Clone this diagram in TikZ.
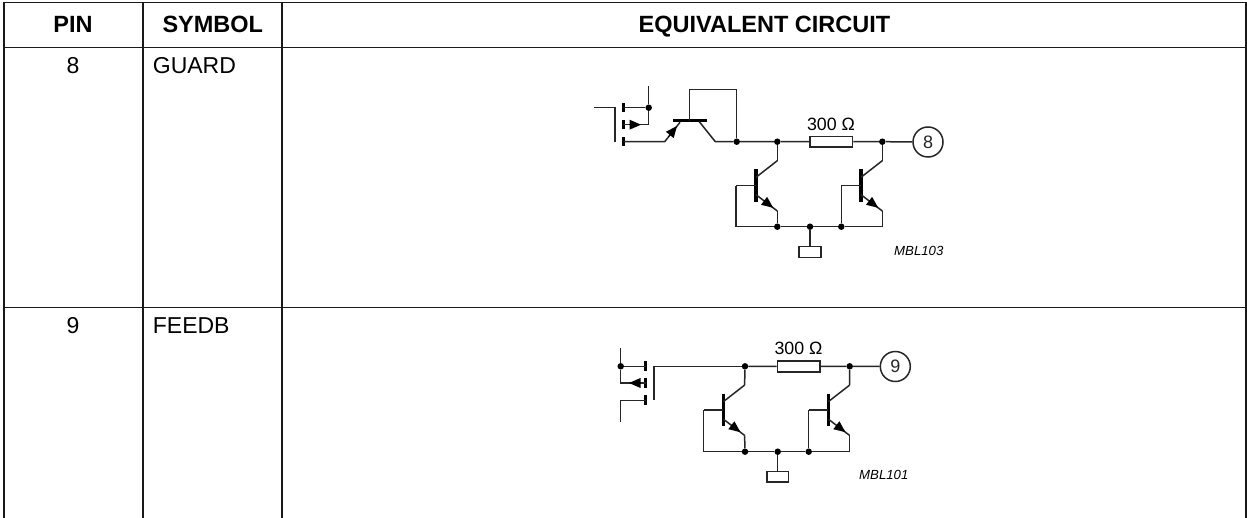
\documentclass[tikz,border=0pt]{standalone}
\usepackage{fontspec}
\setmainfont{Liberation Sans}
\usetikzlibrary{arrows.meta}
\tikzset{
  x=1pt,y=-1pt,
  grid/.style={line width=1.5pt,black!90},
  wire/.style={line width=1.5pt,black!85},
  headtext/.style={anchor=base,inner sep=0pt,font=\fontsize{23.5}{27}\selectfont\bfseries},
  celltext/.style={anchor=base,inner sep=0pt,font=\fontsize{23}{27}\selectfont},
  symtext/.style={anchor=base west,inner sep=0pt,font=\fontsize{23}{27}\selectfont},
  val/.style={anchor=base,inner sep=0pt,font=\fontsize{17.8}{21}\selectfont},
  code/.style={anchor=base west,inner sep=0pt,font=\fontsize{13.2}{16}\selectfont\itshape},
  dot/.style={circle,fill=black,inner sep=0pt,minimum size=6.5pt},
  bar/.style={line width=3.2pt,black},
  res/.style={draw,line width=1.5pt,black!85,inner sep=0pt,minimum width=42.5pt,minimum height=10.7pt,fill=white},
  gnd/.style={draw,line width=1.5pt,black!85,inner sep=0pt,minimum width=21.7pt,minimum height=10.7pt},
  pinc/.style={draw,circle,line width=1.5pt,black!85,inner sep=0pt,minimum size=30pt,font=\fontsize{18}{21}\selectfont},
  tip/.style={line width=0pt,-{Triangle[length=11.5pt,width=10pt]},black},
}
% #1 prefix, #2 bar x, #3 bar top y, #4 base left x, #5 bus y
\newcommand{\mybjt}[5]{%
  \coordinate (#1bt) at (#2,#3);
  \coordinate (#1bb) at (#2,#3+32.7);
  \coordinate (#1b) at (#2,#3+16.4);
  \coordinate (#1cs) at (#2,#3+8);
  \coordinate (#1ck) at (#2+21.3,#3-8.6);
  \coordinate (#1es) at (#2,#3+25.4);
  \coordinate (#1ek) at (#2+21.3,#3+41.7);
  \coordinate (#1bl) at (#4,#3+16.4);
  \coordinate (#1ab) at (#2+8,#3+31.5);
  \coordinate (#1at) at (#2+17.2,#3+38.5);
  \draw[bar] (#1bt) -- (#1bb);
  \draw[wire] (#1cs) -- (#1ck);
  \draw[wire] (#1es) -- (#1ek);
  \draw[wire] (#1b) -- (#1bl);
  \draw[tip] (#1ab) -- (#1at);
}
\begin{document}
\begin{tikzpicture}
\useasboundingbox (0,0) rectangle (1247,518);
\fill[white] (0,0) rectangle (1247,518);
% table grid
\coordinate (tl) at (4,2.7); \coordinate (tr) at (1246.2,2.7);
\coordinate (h1) at (4,47.3); \coordinate (h2) at (1246.2,47.3);
\coordinate (r1) at (4,307.7); \coordinate (r2) at (1246.2,307.7);
\coordinate (c1t) at (143,2.7); \coordinate (c1b) at (143,518);
\coordinate (c2t) at (282,2.7); \coordinate (c2b) at (282,518);
\coordinate (c0b) at (4,518); \coordinate (c3b) at (1246.2,518);
\draw[grid] (c0b) -- (tl) -- (tr) -- (c3b);
\draw[grid] (h1) -- (h2);
\draw[grid] (r1) -- (r2);
\draw[grid] (c1t) -- (c1b);
\draw[grid] (c2t) -- (c2b);
% texts
\node[headtext] (hpin) at (73,33) {PIN};
\node[headtext] (hsym) at (212.8,33) {SYMBOL};
\node[headtext] (heq) at (764.5,33) {EQUIVALENT CIRCUIT};
\node[celltext] (p8) at (73,74) {8};
\node[symtext] (s8) at (152.7,74) {GUARD};
\node[celltext] (p9) at (73,333.5) {9};
\node[symtext] (s9) at (152.7,333.5) {FEEDB};

% ===== circuit 8 =====
\node[pinc] (pin8) at (928,142) {8};
\node[res] (r8) at (831.3,141.7) {};
\node[val] (v8) at (831,130.7) {300 Ω};
\node[dot] (a1) at (648.7,107.7) {};
\node[dot] (a2) at (736.7,141.7) {};
\node[dot] (a3) at (777.3,141.7) {};
\node[dot] (a4) at (882.3,141.7) {};
\node[dot] (a5) at (777.3,226.7) {};
\node[dot] (a6) at (810,226.7) {};
\node[dot] (a7) at (841.3,226.7) {};
\node[gnd,anchor=north] (g8) at (810,246) {};
\coordinate (i1) at (594,107.7); \coordinate (i2) at (615,107.7); \coordinate (i3) at (615,141.7);
\coordinate (u1) at (648.7,86);
\coordinate (u2) at (648.7,124.7);
\coordinate (g1) at (623.3,107.7); \coordinate (g2) at (623.3,124.7); \coordinate (g3) at (623.3,141.7);
\coordinate (e1) at (664.7,141.7); \coordinate (e2) at (680,122.3);
\coordinate (k1) at (699.3,121.7); \coordinate (k2) at (715.3,141.7);
\coordinate (q1) at (689.3,120.7); \coordinate (q2) at (689.3,89.3); \coordinate (q3) at (736.7,89.3);
\draw[wire] (i1) -- (i2) -- (i3);
\draw[bar] (623.3,103.3) -- (623.3,112.4);
\draw[bar] (623.3,120.1) -- (623.3,129.3);
\draw[bar] (623.3,137.1) -- (623.3,146.3);
\draw[wire] (g1) -- (a1);
\draw[wire] (u1) -- (a1);
\draw[wire] (a1) -- (u2) -- (g2);
\coordinate (ta1) at (630,124.7); \coordinate (ta2) at (641,124.7);
\draw[tip] (ta1) -- (ta2);
\draw[wire] (g3) -- (e1) -- (e2);
\coordinate (ta3) at (668.5,136.5); \coordinate (ta4) at (677,126);
\draw[tip] (ta3) -- (ta4);
\draw[bar] (673.3,120.7) -- (706.7,120.7);
\draw[wire] (k1) -- (k2) -- (a2);
\draw[wire] (q1) -- (q2) -- (q3) -- (a2);
\draw[wire] (a2) -- (a3) -- (r8) -- (a4) -- (pin8);
\mybjt{t1}{756}{169.3}{736}{226.7}
\mybjt{t2}{861}{169.3}{841.3}{226.7}
\draw[wire] (a3) -- (t1ck);
\draw[wire] (t1bl) |- (a5);
\draw[wire] (t1ek) -- (a5);
\draw[wire] (a5) -- (a6) -- (a7);
\draw[wire] (a7) -- (t2bl);
\draw[wire] (a7) -| (t2ek);
\draw[wire] (a4) -- (t2ck);
\draw[wire] (a6) -- (g8);
\node[code] (m8) at (894,255.6) {MBL103};

% ===== circuit 9 =====
\node[pinc] (pin9) at (895.3,366.5) {9};
\node[res] (r9) at (798.5,366.5) {};
\node[val] (v9) at (798.5,355) {300 Ω};
\node[dot] (b1) at (620.7,366.3) {};
\node[dot] (b2) at (745,366.3) {};
\node[dot] (b3) at (849.7,366.3) {};
\node[dot] (b4) at (745,451.7) {};
\node[dot] (b5) at (777.7,451.7) {};
\node[dot] (b6) at (808.7,451.7) {};
\node[gnd,anchor=north] (g9) at (777.7,470.7) {};
\coordinate (w1) at (620.7,348); \coordinate (w2) at (620.7,383);
\coordinate (h3) at (645.7,366.3); \coordinate (h4) at (645.7,383); \coordinate (h5) at (645.7,400.3);
\coordinate (w3) at (620.7,400.3); \coordinate (w4) at (620.7,421.7);
\coordinate (ch1) at (654,400.3); \coordinate (ch2) at (654,366.3);
\draw[bar] (645.7,361.3) -- (645.7,370.7);
\draw[bar] (645.7,378) -- (645.7,388.3);
\draw[bar] (645.7,395.3) -- (645.7,405);
\draw[wire] (w1) -- (b1) -- (w2) -- (h4);
\draw[wire] (b1) -- (h3);
\coordinate (ta5) at (640,383); \coordinate (ta6) at (629,383);
\draw[tip] (ta5) -- (ta6);
\draw[wire] (h5) -- (w3) -- (w4);
\draw[wire] (ch1) -- (ch2) -- (b2);
\draw[wire] (b2) -- (r9) -- (b3) -- (pin9);
\mybjt{t3}{723.3}{393.7}{703.7}{451.7}
\mybjt{t4}{828.3}{393.7}{808.7}{451.7}
\draw[wire] (b2) -- (t3ck);
\draw[wire] (t3bl) |- (b4);
\draw[wire] (t3ek) -- (b4);
\draw[wire] (b4) -- (b5) -- (b6);
\draw[wire] (b6) -- (t4bl);
\draw[wire] (b6) -| (t4ek);
\draw[wire] (b3) -- (t4ck);
\draw[wire] (b5) -- (g9);
\node[code] (m9) at (859,479.6) {MBL101};
\end{tikzpicture}
\end{document}
